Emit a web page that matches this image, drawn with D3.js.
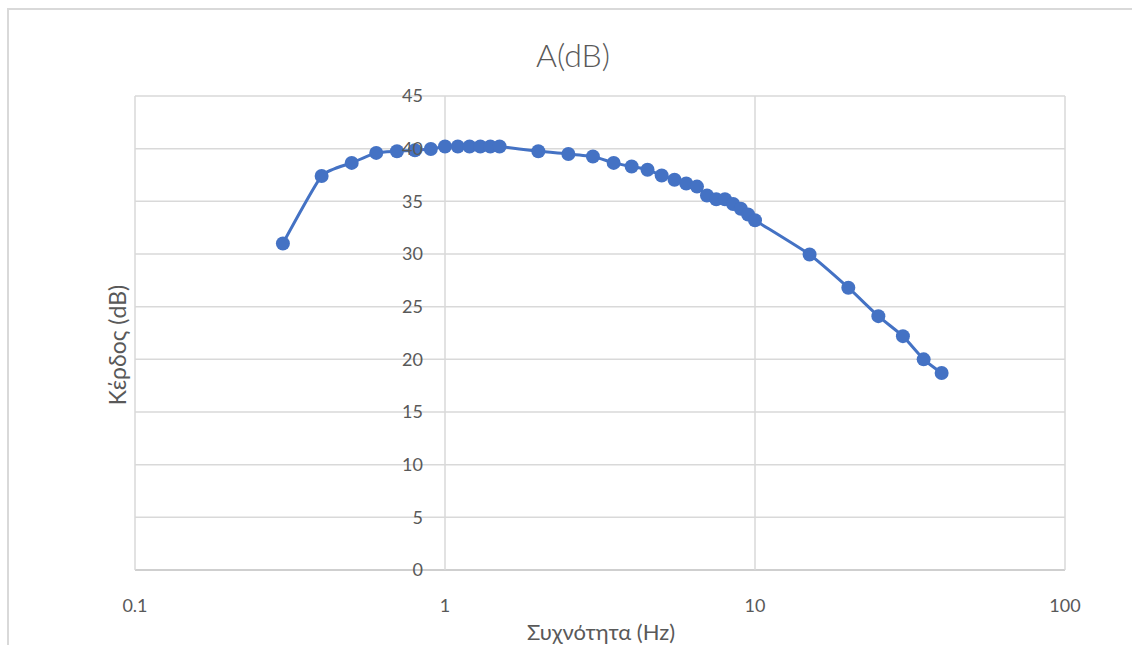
<!DOCTYPE html>
<html>
<head>
<meta charset="utf-8">
<script src="https://cdn.jsdelivr.net/npm/d3@7"></script>
<style>
  body { margin: 0; background: #fff; }
  text { font-family: Lato, "Open Sans", sans-serif; fill: #595959; }
</style>
</head>
<body>
<svg id="chart" width="1132" height="645"></svg>
<script>
const freq = [0.3, 0.4, 0.5, 0.6, 0.7, 0.8, 0.9, 1, 1.1, 1.2, 1.3, 1.4, 1.5, 2, 2.5, 3, 3.5, 4, 4.5, 5, 5.5, 6, 6.5, 7, 7.5, 8, 8.5, 9, 9.5, 10, 15, 20, 25, 30, 35, 40];
const gain = [31.0, 37.4, 38.65, 39.6, 39.75, 39.85, 39.97, 40.2, 40.2, 40.2, 40.2, 40.2, 40.2, 39.75, 39.5, 39.25, 38.65, 38.3, 38.0, 37.45, 37.05, 36.7, 36.4, 35.55, 35.2, 35.2, 34.75, 34.3, 33.75, 33.2, 29.95, 26.8, 24.1, 22.2, 20.0, 18.7];
const xTicks = [0.1, 1, 10, 100];
const yTicks = [0, 5, 10, 15, 20, 25, 30, 35, 40, 45];
const title = "A(dB)";
const xTitle = "Συχνότητα (Hz)";
const yTitle = "Κέρδος (dB)";

const svg = d3.select("#chart");
const pLeft = 135, pRight = 1065, pTop = 96, pBottom = 570;
const x = d3.scaleLog().domain([0.1, 100]).range([pLeft, pRight]);
const y = d3.scaleLinear().domain([0, 45]).range([pBottom, pTop]);

// chart border
svg.append("path").attr("d", `M8,645 V9 H1132`).attr("fill", "none")
  .attr("stroke", "#d9d9d9").attr("stroke-width", 2);

// horizontal gridlines
svg.append("g").selectAll("line").data(yTicks).join("line")
  .attr("x1", pLeft).attr("x2", pRight)
  .attr("y1", d => y(d)).attr("y2", d => y(d))
  .attr("stroke", d => d === 0 ? "#bfbfbf" : "#d9d9d9").attr("stroke-width", 1.5);
// vertical gridlines
svg.append("g").selectAll("line").data(xTicks).join("line")
  .attr("x1", d => x(d)).attr("x2", d => x(d))
  .attr("y1", pTop).attr("y2", pBottom)
  .attr("stroke", "#d9d9d9").attr("stroke-width", 1.5);

// x tick labels
svg.append("g").selectAll("text").data(xTicks).join("text")
  .attr("x", d => x(d)).attr("y", 612)
  .attr("text-anchor", "middle").attr("font-size", 18)
  .text(d => d3.format("")(d));

// line
const line = d3.line().x((d, i) => x(freq[i])).y(d => y(d)).curve(d3.curveCardinal.tension(0.5));
svg.append("path").datum(gain).attr("d", line)
  .attr("fill", "none").attr("stroke", "#4472c4").attr("stroke-width", 3);
svg.append("g").selectAll("circle").data(gain).join("circle")
  .attr("cx", (d, i) => x(freq[i])).attr("cy", d => y(d)).attr("r", 7)
  .attr("fill", "#4472c4");

// y tick labels (axis crosses at 1)
svg.append("g").selectAll("text").data(yTicks).join("text")
  .attr("x", x(1) - 22).attr("y", d => y(d)).attr("dy", "0.35em")
  .attr("text-anchor", "end").attr("font-size", 18)
  .text(d => d);

// titles
svg.append("text").attr("x", 573).attr("y", 67).attr("text-anchor", "middle")
  .attr("font-size", 32).attr("font-weight", 300).text(title);
svg.append("text").attr("x", 601).attr("y", 640).attr("text-anchor", "middle")
  .attr("font-size", 22).text(xTitle);
svg.append("text").attr("transform", "translate(126,345) rotate(-90)")
  .attr("text-anchor", "middle").attr("font-size", 23).text(yTitle);
</script>
</body>
</html>
